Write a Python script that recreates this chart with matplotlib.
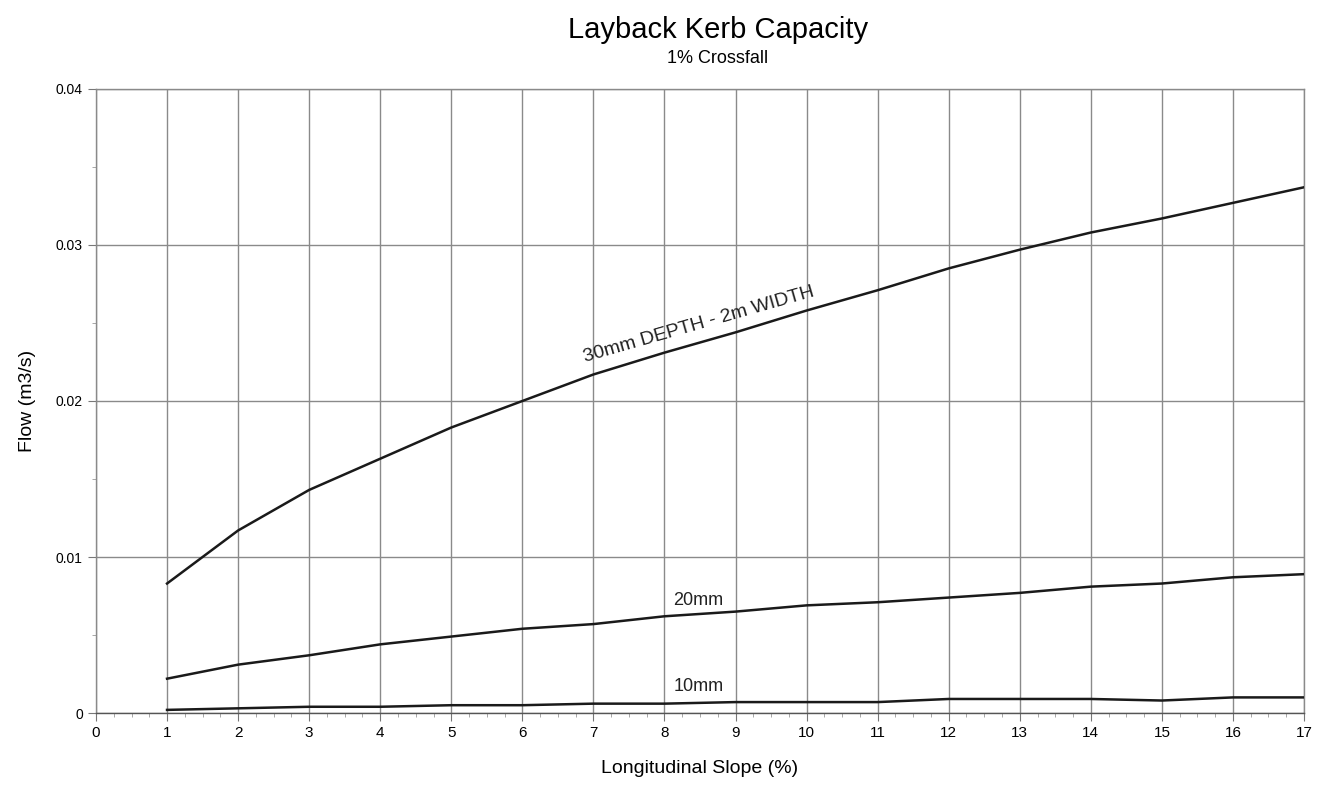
import matplotlib.pyplot as plt
from matplotlib.ticker import MultipleLocator, FixedLocator
from matplotlib import font_manager

# slope values (%) and flows (m3/s)
slope = [1, 2, 3, 4, 5, 6, 7, 8, 9, 10, 11, 12, 13, 14, 15, 16, 17]
flow_30mm = [0.0083, 0.0117, 0.0143, 0.0163, 0.0183, 0.0200, 0.0217, 0.0231, 0.0244,
             0.0258, 0.0271, 0.0285, 0.0297, 0.0308, 0.0317, 0.0327, 0.0337]
flow_20mm = [0.0022, 0.0031, 0.0037, 0.0044, 0.0049, 0.0054, 0.0057, 0.0062, 0.0065,
             0.0069, 0.0071, 0.0074, 0.0077, 0.0081, 0.0083, 0.0087, 0.0089]
flow_10mm = [0.0002, 0.0003, 0.0004, 0.0004, 0.0005, 0.0005, 0.0006, 0.0006, 0.0007,
             0.0007, 0.0007, 0.0009, 0.0009, 0.0009, 0.0008, 0.0010, 0.0010]

x_ticks = list(range(0, 18))
y_ticks = [0, 0.01, 0.02, 0.03, 0.04]
y_tick_labels = ['0', '0.01', '0.02', '0.03', '0.04']

names = {f.name for f in font_manager.fontManager.ttflist}
fam = 'Liberation Sans Narrow' if 'Liberation Sans Narrow' in names else 'Liberation Sans'
plt.rcParams['font.family'] = [fam, 'DejaVu Sans']

fig = plt.figure(figsize=(13.22, 7.91), dpi=100)
ax = fig.add_axes([0.0726, 0.0986, 0.9138, 0.7889])

for ys in (flow_30mm, flow_20mm, flow_10mm):
    ax.plot(slope, ys, color='#1a1a1a', lw=1.8, zorder=3)

ax.set_xlim(0, 17)
ax.set_ylim(0, 0.04)
ax.xaxis.set_major_locator(FixedLocator(x_ticks))
ax.xaxis.set_minor_locator(MultipleLocator(0.25))
ax.yaxis.set_major_locator(FixedLocator(y_ticks))
ax.yaxis.set_minor_locator(MultipleLocator(0.005))
ax.set_yticklabels(y_tick_labels)
ax.grid(True, which='major', color='#8a8a8a', lw=1.0)
for s in ax.spines.values():
    s.set_color('#8a8a8a')
    s.set_linewidth(1.0)
ax.spines['bottom'].set_color('#555555')
ax.tick_params(which='major', direction='out', length=6, color='#777777', labelsize=11)
ax.tick_params(which='minor', direction='out', length=3, color='#999999')
ax.tick_params(axis='y', labelsize=10)

ax.text(8.49, 0.0249, '30mm DEPTH - 2m WIDTH', rotation=16, ha='center', va='center',
        fontsize=14, color='#222222')
ax.text(8.48, 0.0072, '20mm', ha='center', va='center', fontsize=13, color='#222222')
ax.text(8.48, 0.0017, '10mm', ha='center', va='center', fontsize=13, color='#222222')

ax.set_xlabel('Longitudinal Slope (%)', fontsize=14, labelpad=14)
ax.set_ylabel('Flow (m3/s)', fontsize=14, labelpad=14)

fig.text(0.543, 0.962, 'Layback Kerb Capacity', ha='center', va='center', fontsize=21)
fig.text(0.543, 0.926, '1% Crossfall', ha='center', va='center', fontsize=13)

fig.savefig('out.png', dpi=100)
